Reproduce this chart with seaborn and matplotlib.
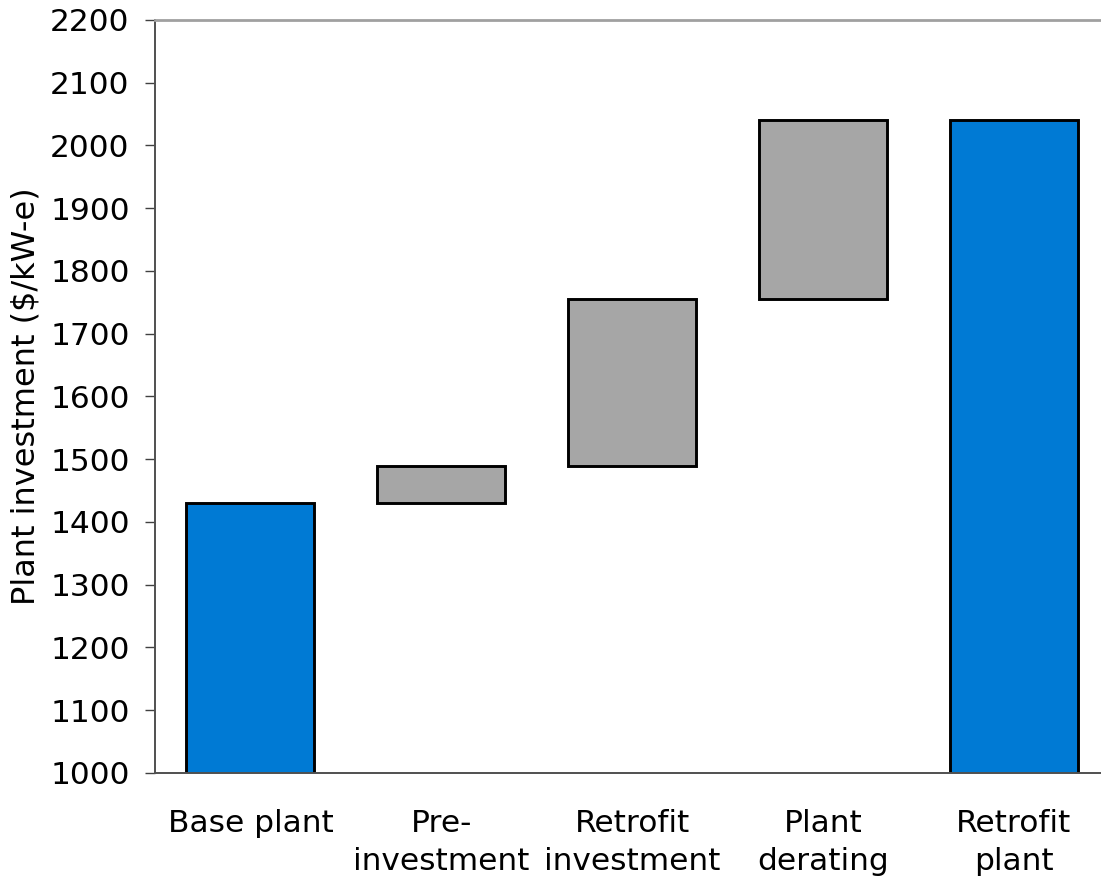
import numpy as np
import matplotlib
matplotlib.use("Agg")
import matplotlib.pyplot as plt
import seaborn as sns

categories = ["Base plant", "Pre-\ninvestment", "Retrofit\ninvestment", "Plant\nderating", "Retrofit\nplant"]
bar_bottom = [0, 1430, 1490, 1755, 0]
bar_height = [1430, 60, 265, 285, 2040]
bar_colors = ["#007AD4", "#A6A6A6", "#A6A6A6", "#A6A6A6", "#007AD4"]

sns.set_style("white")
plt.rcParams["font.family"] = ["DejaVu Sans"]
plt.rcParams["text.color"] = "black"
plt.rcParams["axes.labelcolor"] = "black"
plt.rcParams["xtick.color"] = "black"
plt.rcParams["ytick.color"] = "black"

fig = plt.figure(figsize=(11.01, 8.84), dpi=100)
# plot area runs past the right edge of the picture
ax = fig.add_axes([155 / 1101, 1 - 773 / 884, (1109 - 155) / 1101, (773 - 20) / 884])

sns.barplot(x=categories, y=bar_height, bottom=bar_bottom, color=bar_colors[0],
            width=0.67, edgecolor="black", linewidth=2.1, saturation=1, ax=ax)
for patch, c in zip(ax.patches, bar_colors):
    patch.set_facecolor(c)

ax.set_ylim(1000, 2200)
ax.set_xlim(-0.5, 4.5)
ax.set_yticks(np.arange(1000, 2201, 100))
ax.set_xticks(range(5))
ax.set_xticklabels(categories, fontsize=22.5, linespacing=1.4)
ax.set_xticks(np.arange(-0.5, 5, 1), minor=True)
ax.tick_params(axis="x", which="major", length=0, pad=26)
ax.tick_params(axis="x", which="minor", length=6.5, width=1, color="#404040", direction="out")
ax.tick_params(axis="y", length=7.2, width=1, color="#404040", direction="out", pad=11, labelsize=22.5, left=True)
ax.set_ylabel("Plant investment ($/kW-e)", fontsize=23, labelpad=6)
ax.set_xlabel("")

for s in ["left", "bottom"]:
    ax.spines[s].set_color("#505050")
    ax.spines[s].set_linewidth(1.4)
ax.spines["top"].set_color("#A0A0A0")
ax.spines["top"].set_linewidth(2)
ax.spines["right"].set_visible(False)

fig.savefig("out.png", dpi=100)
